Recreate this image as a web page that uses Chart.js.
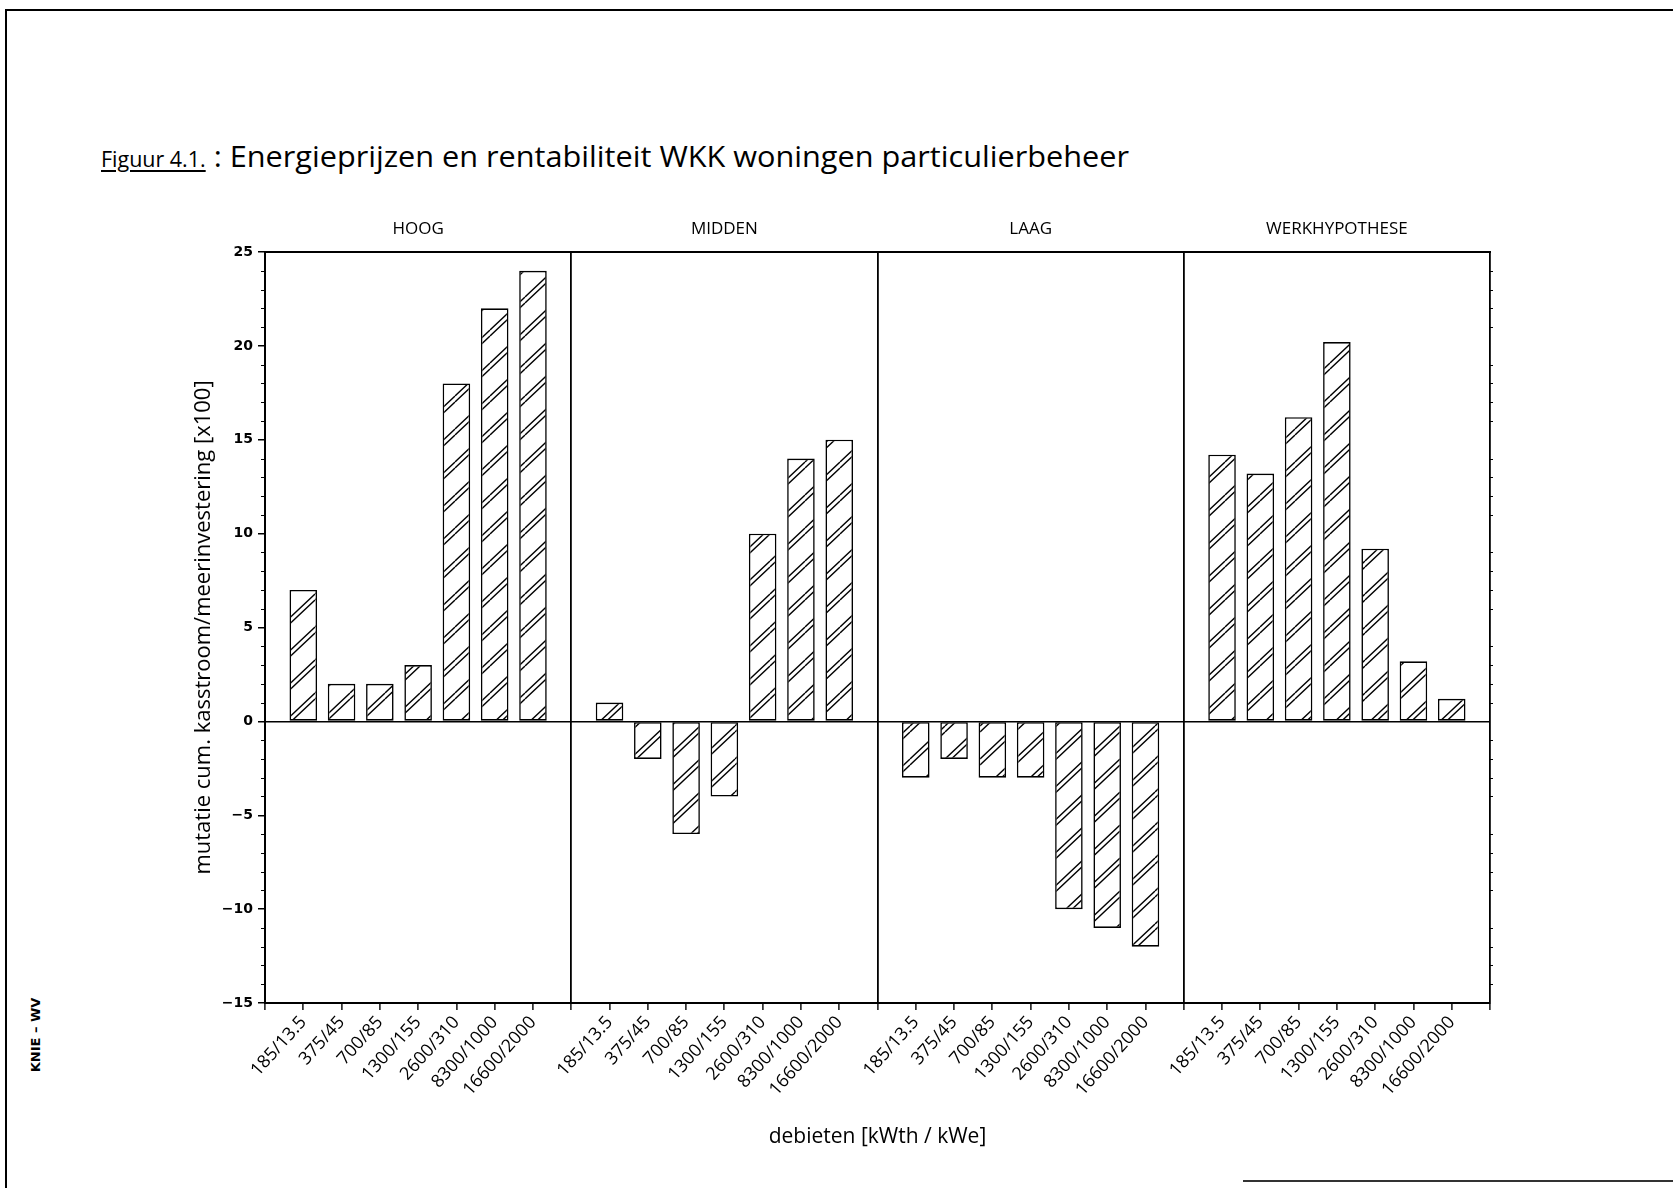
<!DOCTYPE html>
<html>
<head>
<meta charset="utf-8">
<script src="https://cdn.jsdelivr.net/npm/chart.js@4.4.1/dist/chart.umd.min.js"></script>
<style>
  html, body { margin: 0; padding: 0; background: #fff; }
  body { width: 1673px; height: 1188px; position: relative; overflow: hidden; font-family: "Open Sans", sans-serif; color: #000; }
  #chart { position: absolute; left: 0; top: 0; }
  .rule { position: absolute; background: #000; }
  #title { position: absolute; left: 101px; top: 136px; line-height: 40px; font-size: 30px; white-space: nowrap; transform-origin: left center; }
  #title .fig { font-size: 21px; text-decoration: underline; text-underline-offset: 3px; }
  #stamp { position: absolute; left: 35px; top: 1035px; transform: translate(-50%, -50%) rotate(-90deg); font-family: "DejaVu Sans", sans-serif; font-weight: bold; font-size: 13px; white-space: nowrap; }
</style>
</head>
<body>
<div class="rule" style="left:5px;top:9px;width:1668px;height:2px;"></div>
<div class="rule" style="left:5px;top:9px;width:2px;height:1179px;"></div>
<div class="rule" style="left:1243px;top:1180px;width:430px;height:2px;background:#333;"></div>
<div id="title"><span class="fig">Figuur 4.1.</span> : Energieprijzen en rentabiliteit WKK woningen particulierbeheer</div>
<div id="stamp">KNIE – WV</div>
<canvas id="chart" width="1673" height="1188"></canvas>
<script>
// Price scenarios (one panel each) and the installation sizes per panel
const panels = ['HOOG', 'MIDDEN', 'LAAG', 'WERKHYPOTHESE'];
const capacities = ['185/13.5', '375/45', '700/85', '1300/155', '2600/310', '8300/1000', '16600/2000'];

// Change in cumulative cash flow / extra investment [x100]
const hoog          = [7, 2, 2, 3, 18, 22, 24];
const midden        = [1, -2, -6, -4, 10, 14, 15];
const laag          = [-3, -2, -3, -3, -10, -11, -12];
const werkhypothese = [14.2, 13.2, 16.2, 20.2, 9.2, 3.2, 1.2];

// Value axis
const yMin = -15, yMax = 25, yStep = 5;

const series = [hoog, midden, laag, werkhypothese];

// One shared category axis: an empty slot at every panel border, the seven sizes in between
const bottomLabels = [], topLabels = [], values = [];
panels.forEach((name, i) => {
  bottomLabels.push(''); topLabels.push(''); values.push(null);
  capacities.forEach((cap, j) => {
    bottomLabels.push(cap);
    topLabels.push(j === 3 ? name : '');
    values.push(series[i][j]);
  });
});
bottomLabels.push(''); topLabels.push(''); values.push(null);
const slotsPerPanel = capacities.length + 1;

// Double diagonal hatching used to fill the bars
function makeHatch() {
  const W = 35, H = 33;
  const c = document.createElement('canvas');
  c.width = W; c.height = H;
  const g = c.getContext('2d');
  g.fillStyle = '#fff';
  g.fillRect(0, 0, W, H);
  g.strokeStyle = '#000';
  g.lineWidth = 1.4;
  for (const off of [0, 6]) {
    for (const k of [-1, 0, 1]) {
      g.beginPath();
      g.moveTo(0, H + k * H + off);
      g.lineTo(W, k * H + off);
      g.stroke();
    }
  }
  return g.createPattern(c, 'repeat');
}

// Small unit ticks along the left and right frame
const minorTicks = {
  id: 'minorTicks',
  afterDraw(chart) {
    const y = chart.scales.y;
    const { left, right } = chart.chartArea;
    const ctx = chart.ctx;
    ctx.save();
    ctx.strokeStyle = '#000';
    ctx.lineWidth = 1;
    for (let v = yMin; v <= yMax; v++) {
      if (v % yStep === 0) continue;
      const py = Math.round(y.getPixelForValue(v)) + 0.5;
      ctx.beginPath();
      ctx.moveTo(left - 4, py); ctx.lineTo(left, py);
      ctx.moveTo(right, py); ctx.lineTo(right + 3, py);
      ctx.stroke();
    }
    ctx.restore();
  }
};

const black = '#000';
const none = 'rgba(0,0,0,0)';

new Chart(document.getElementById('chart'), {
  type: 'bar',
  data: {
    labels: bottomLabels,
    datasets: [{
      data: values,
      backgroundColor: makeHatch(),
      borderColor: black,
      borderWidth: 1.6,
      borderSkipped: false,
      barPercentage: 0.72,
      categoryPercentage: 1
    }]
  },
  options: {
    responsive: false,
    animation: false,
    devicePixelRatio: 1,
    layout: { padding: { left: 150, right: 183, top: 190, bottom: 20 } },
    plugins: { legend: { display: false }, title: { display: false }, tooltip: { enabled: false } },
    scales: {
      x: {
        type: 'category',
        position: 'bottom',
        offset: false,
        grid: {
          offset: false,
          color: ctx => ctx.index % slotsPerPanel === 0 ? black : none,
          lineWidth: 1.8,
          tickColor: black,
          tickLength: 7,
          tickWidth: 1.4
        },
        border: { display: true, color: black, width: 2 },
        ticks: {
          autoSkip: false, maxRotation: 48, minRotation: 48, padding: 2,
          color: black, font: { family: 'Open Sans', size: 18 }
        },
        title: {
          display: true, text: 'debieten [kWth / kWe]', color: black,
          font: { family: 'Open Sans', size: 21 }, padding: { top: 0, bottom: 18 }
        },
        afterFit(scale) { scale.height = 165; }
      },
      x2: {
        type: 'category',
        position: 'top',
        labels: topLabels,
        offset: false,
        grid: { display: false, drawTicks: false, offset: false },
        border: { display: true, color: black, width: 2 },
        ticks: {
          autoSkip: false, maxRotation: 0, padding: 13,
          color: black, font: { family: 'Open Sans', size: 17 }
        },
        afterFit(scale) { scale.height = 62; }
      },
      y: {
        min: yMin,
        max: yMax,
        ticks: {
          stepSize: yStep,
          padding: 5,
          color: black,
          font: { family: 'DejaVu Sans', weight: 'bold', size: 14 },
          callback: v => v < 0 ? '\u2212' + Math.abs(v) : String(v)
        },
        grid: {
          color: ctx => ctx.tick && ctx.tick.value === 0 ? black : none,
          lineWidth: 1.5,
          tickColor: black,
          tickLength: 7,
          tickWidth: 1.5
        },
        border: { display: true, color: black, width: 2 },
        title: {
          display: true, text: 'mutatie cum. kasstroom/meerinvestering [x100]', color: black,
          font: { family: 'Open Sans', size: 22 }, padding: { top: 41, bottom: 0 }
        },
        afterFit(scale) { scale.width = 115; }
      }
    }
  },
  plugins: [minorTicks]
});

// Fit the heading to its line width
const title = document.getElementById('title');
const natural = title.getBoundingClientRect().width;
title.style.transform = 'scaleX(' + (1028 / natural) + ')';
</script>
</body>
</html>
